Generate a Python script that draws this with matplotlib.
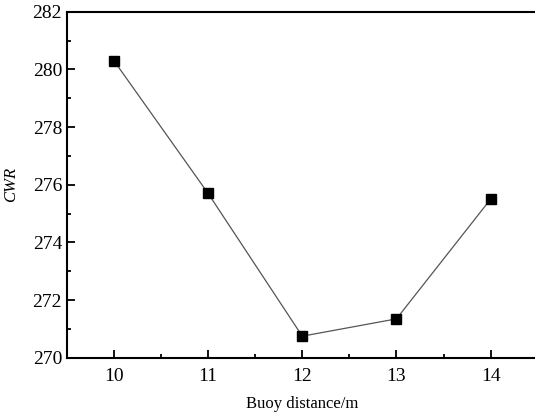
import matplotlib
matplotlib.use("Agg")
import matplotlib.pyplot as plt
from matplotlib.ticker import MultipleLocator

# buoy spacing vs capture width ratio
distance = [10, 11, 12, 13, 14]
cwr = [280.3, 275.7, 270.75, 271.35, 275.5]

plt.rcParams['font.family'] = ['Liberation Serif', 'DejaVu Serif']

fig = plt.figure(figsize=(5.35, 4.18), dpi=100)
ax = fig.add_axes([0.125, 0.144, 0.88, 0.828])

ax.plot(distance, cwr, color='#555555', linewidth=0.9,
        marker='s', markersize=6.5, markerfacecolor='black', markeredgecolor='black')

ax.set_xlim(9.5, 14.5)
ax.set_ylim(270, 282)
ax.xaxis.set_major_locator(MultipleLocator(1))
ax.xaxis.set_minor_locator(MultipleLocator(0.5))
ax.yaxis.set_major_locator(MultipleLocator(2))
ax.yaxis.set_minor_locator(MultipleLocator(1))
ax.tick_params(which='both', direction='in', width=1.3, labelsize=14, colors='black')
ax.tick_params(which='major', length=6)
ax.tick_params(which='minor', length=3)
ax.tick_params(axis='x', pad=7)

for side in ['left', 'bottom', 'top']:
    ax.spines[side].set_linewidth(1.5)
ax.spines['right'].set_visible(False)

ax.set_xlabel("Buoy distance/m", fontsize=12, labelpad=8)
ax.set_ylabel("CWR", fontsize=12, fontstyle='italic', labelpad=10)

fig.savefig("out.png", dpi=100)
